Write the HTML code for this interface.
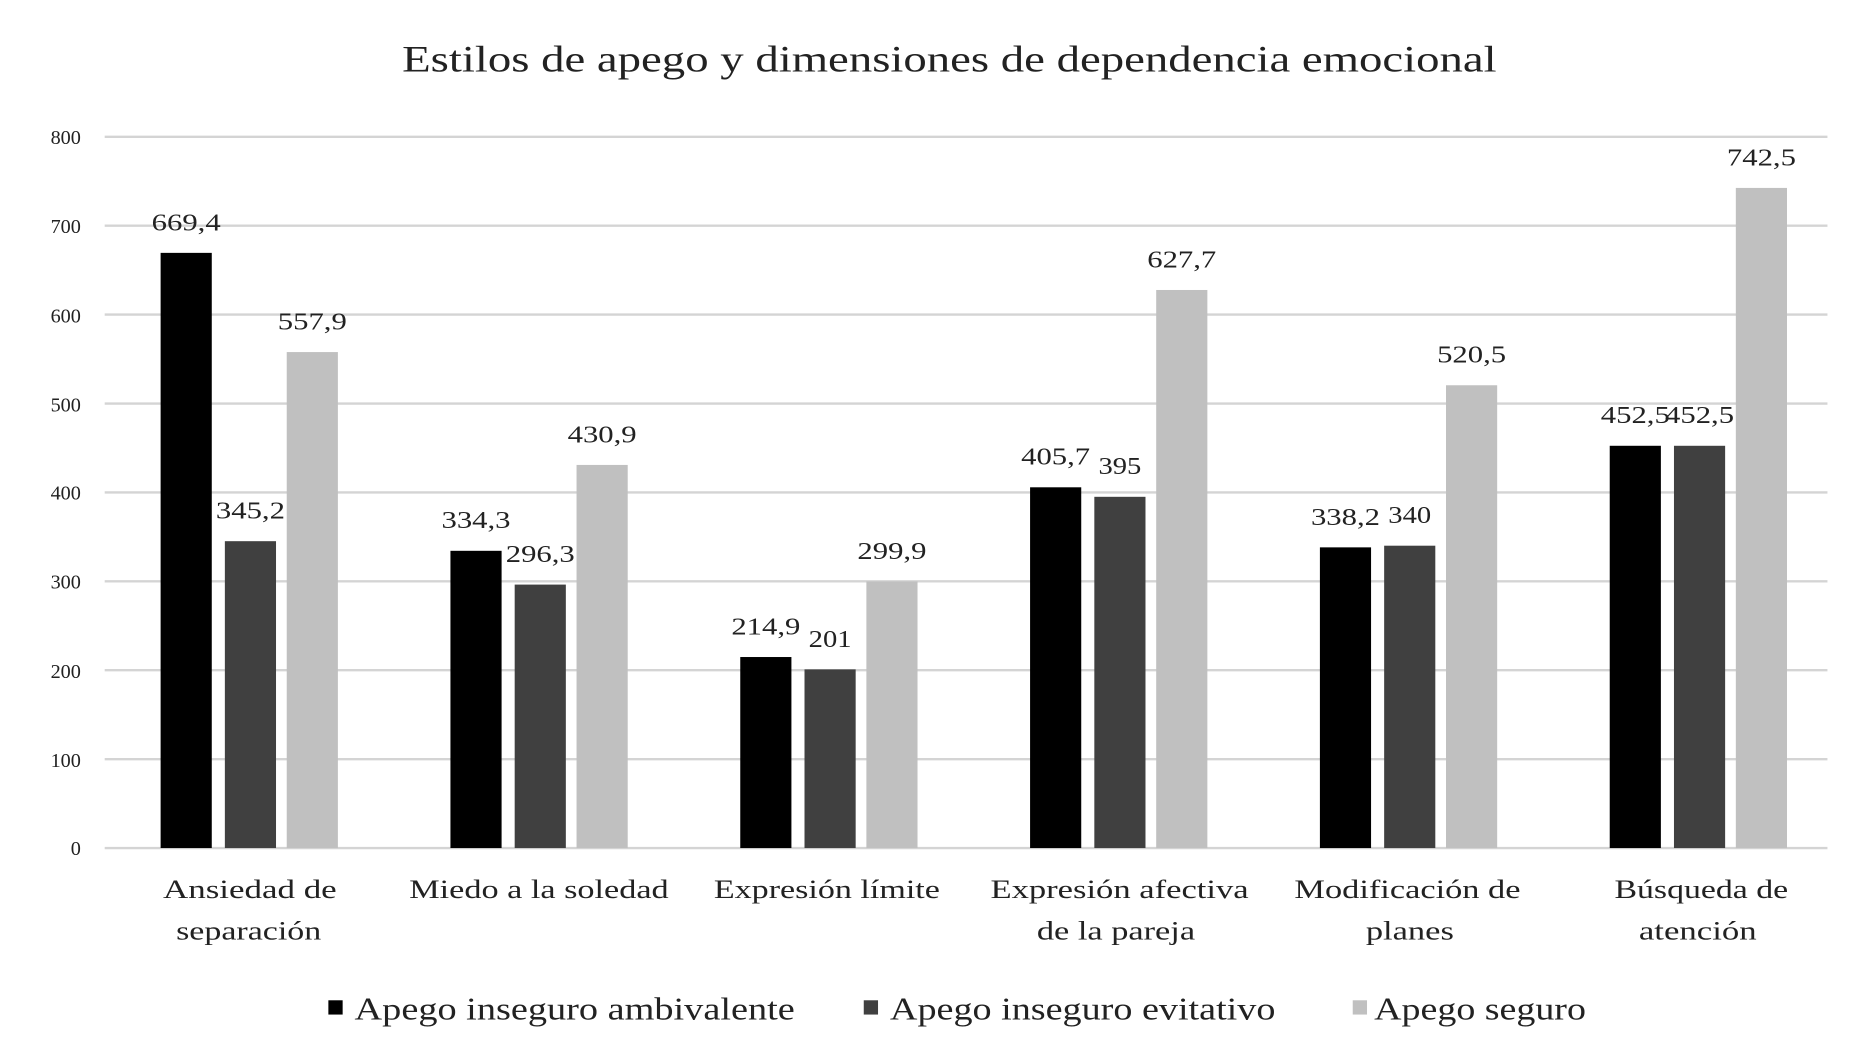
<!DOCTYPE html>
<html><head><meta charset="utf-8"><style>
html,body{margin:0;padding:0;background:#fff;}
svg{display:block;}
text{font-family:"Liberation Serif",serif;fill:#222;}
</style></head><body>
<svg width="1856" height="1055" viewBox="0 0 1560 887" preserveAspectRatio="none" xmlns="http://www.w3.org/2000/svg">
<rect width="1560" height="887" fill="#fff"/>
<text x="798" y="60" font-size="31" text-anchor="middle" textLength="920" lengthAdjust="spacingAndGlyphs">Estilos  de apego y dimensiones  de dependencia emocional</text>
<g stroke="#d4d4d4" stroke-width="2">
<line x1="88" x2="1536" y1="115" y2="115"/><line x1="88" x2="1536" y1="189.75" y2="189.75"/>
<line x1="88" x2="1536" y1="264.5" y2="264.5"/><line x1="88" x2="1536" y1="339.25" y2="339.25"/>
<line x1="88" x2="1536" y1="414" y2="414"/><line x1="88" x2="1536" y1="488.75" y2="488.75"/>
<line x1="88" x2="1536" y1="563.5" y2="563.5"/><line x1="88" x2="1536" y1="638.25" y2="638.25"/>
<line x1="88" x2="1536" y1="713" y2="713"/>
</g>
<g font-size="17" text-anchor="end" fill="#444">
<text x="68" y="121">800</text><text x="68" y="196">700</text><text x="68" y="271">600</text>
<text x="68" y="346">500</text><text x="68" y="420">400</text><text x="68" y="495">300</text>
<text x="68" y="570">200</text><text x="68" y="645">100</text><text x="68" y="719">0</text>
</g>
<g>
<rect x="135" y="212.6" width="43" height="500.4" fill="#000"/>
<rect x="189" y="455" width="43" height="258" fill="#404040"/>
<rect x="241" y="296" width="43" height="417" fill="#c0c0c0"/>
<rect x="378.6" y="463.1" width="43" height="249.9" fill="#000"/>
<rect x="432.6" y="491.5" width="43" height="221.5" fill="#404040"/>
<rect x="484.6" y="390.9" width="43" height="322.1" fill="#c0c0c0"/>
<rect x="622.2" y="552.4" width="43" height="160.6" fill="#000"/>
<rect x="676.2" y="562.8" width="43" height="150.2" fill="#404040"/>
<rect x="728.2" y="488.8" width="43" height="224.2" fill="#c0c0c0"/>
<rect x="865.8" y="409.7" width="43" height="303.3" fill="#000"/>
<rect x="919.8" y="417.7" width="43" height="295.3" fill="#404040"/>
<rect x="971.8" y="243.8" width="43" height="469.2" fill="#c0c0c0"/>
<rect x="1109.4" y="460.2" width="43" height="252.8" fill="#000"/>
<rect x="1163.4" y="458.8" width="43" height="254.2" fill="#404040"/>
<rect x="1215.4" y="323.9" width="43" height="389.1" fill="#c0c0c0"/>
<rect x="1353" y="374.8" width="43" height="338.2" fill="#000"/>
<rect x="1407" y="374.8" width="43" height="338.2" fill="#404040"/>
<rect x="1459" y="158" width="43" height="555" fill="#c0c0c0"/>
</g>
<g font-size="20" text-anchor="middle" lengthAdjust="spacingAndGlyphs">
<text x="156.5" y="193.6" textLength="58" lengthAdjust="spacingAndGlyphs">669,4</text><text x="210.5" y="436" textLength="58" lengthAdjust="spacingAndGlyphs">345,2</text><text x="262.5" y="277" textLength="58" lengthAdjust="spacingAndGlyphs">557,9</text>
<text x="400.1" y="444.1" textLength="58" lengthAdjust="spacingAndGlyphs">334,3</text><text x="454.1" y="472.5" textLength="58" lengthAdjust="spacingAndGlyphs">296,3</text><text x="506.1" y="371.9" textLength="58" lengthAdjust="spacingAndGlyphs">430,9</text>
<text x="643.7" y="533.4" textLength="58" lengthAdjust="spacingAndGlyphs">214,9</text><text x="697.7" y="543.8" textLength="36" lengthAdjust="spacingAndGlyphs">201</text><text x="749.7" y="469.8" textLength="58" lengthAdjust="spacingAndGlyphs">299,9</text>
<text x="887.3" y="390.7" textLength="58" lengthAdjust="spacingAndGlyphs">405,7</text><text x="941.3" y="398.7" textLength="36" lengthAdjust="spacingAndGlyphs">395</text><text x="993.3" y="224.8" textLength="58" lengthAdjust="spacingAndGlyphs">627,7</text>
<text x="1130.9" y="441.2" textLength="58" lengthAdjust="spacingAndGlyphs">338,2</text><text x="1184.9" y="439.8" textLength="36" lengthAdjust="spacingAndGlyphs">340</text><text x="1236.9" y="304.9" textLength="58" lengthAdjust="spacingAndGlyphs">520,5</text>
<text x="1374.5" y="355.8" textLength="58" lengthAdjust="spacingAndGlyphs">452,5</text><text x="1428.5" y="355.8" textLength="58" lengthAdjust="spacingAndGlyphs">452,5</text><text x="1480.5" y="139" textLength="58" lengthAdjust="spacingAndGlyphs">742,5</text>
</g>
<g font-size="22" text-anchor="middle">
<text x="210" y="755" textLength="146" lengthAdjust="spacingAndGlyphs">Ansiedad de</text><text x="209" y="790" textLength="122" lengthAdjust="spacingAndGlyphs">separación</text>
<text x="453" y="755" textLength="218" lengthAdjust="spacingAndGlyphs">Miedo a la soledad</text>
<text x="695" y="755" textLength="190" lengthAdjust="spacingAndGlyphs">Expresión límite</text>
<text x="941" y="755" textLength="217" lengthAdjust="spacingAndGlyphs">Expresión afectiva</text><text x="938" y="790" textLength="133" lengthAdjust="spacingAndGlyphs">de la pareja</text>
<text x="1183" y="755" textLength="190" lengthAdjust="spacingAndGlyphs">Modificación de</text><text x="1185" y="790" textLength="74" lengthAdjust="spacingAndGlyphs">planes</text>
<text x="1430" y="755" textLength="146" lengthAdjust="spacingAndGlyphs">Búsqueda de</text><text x="1427" y="790" textLength="99" lengthAdjust="spacingAndGlyphs">atención</text>
</g>
<rect x="276" y="841" width="12" height="12" fill="#000"/>
<text x="298" y="857" font-size="27" textLength="370" lengthAdjust="spacingAndGlyphs">Apego inseguro ambivalente</text>
<rect x="726" y="841" width="12" height="12" fill="#404040"/>
<text x="748" y="857" font-size="27" textLength="324" lengthAdjust="spacingAndGlyphs">Apego inseguro evitativo</text>
<rect x="1137" y="841" width="12" height="12" fill="#c0c0c0"/>
<text x="1155" y="857" font-size="27" textLength="178" lengthAdjust="spacingAndGlyphs">Apego seguro</text>
</svg>
</body></html>
